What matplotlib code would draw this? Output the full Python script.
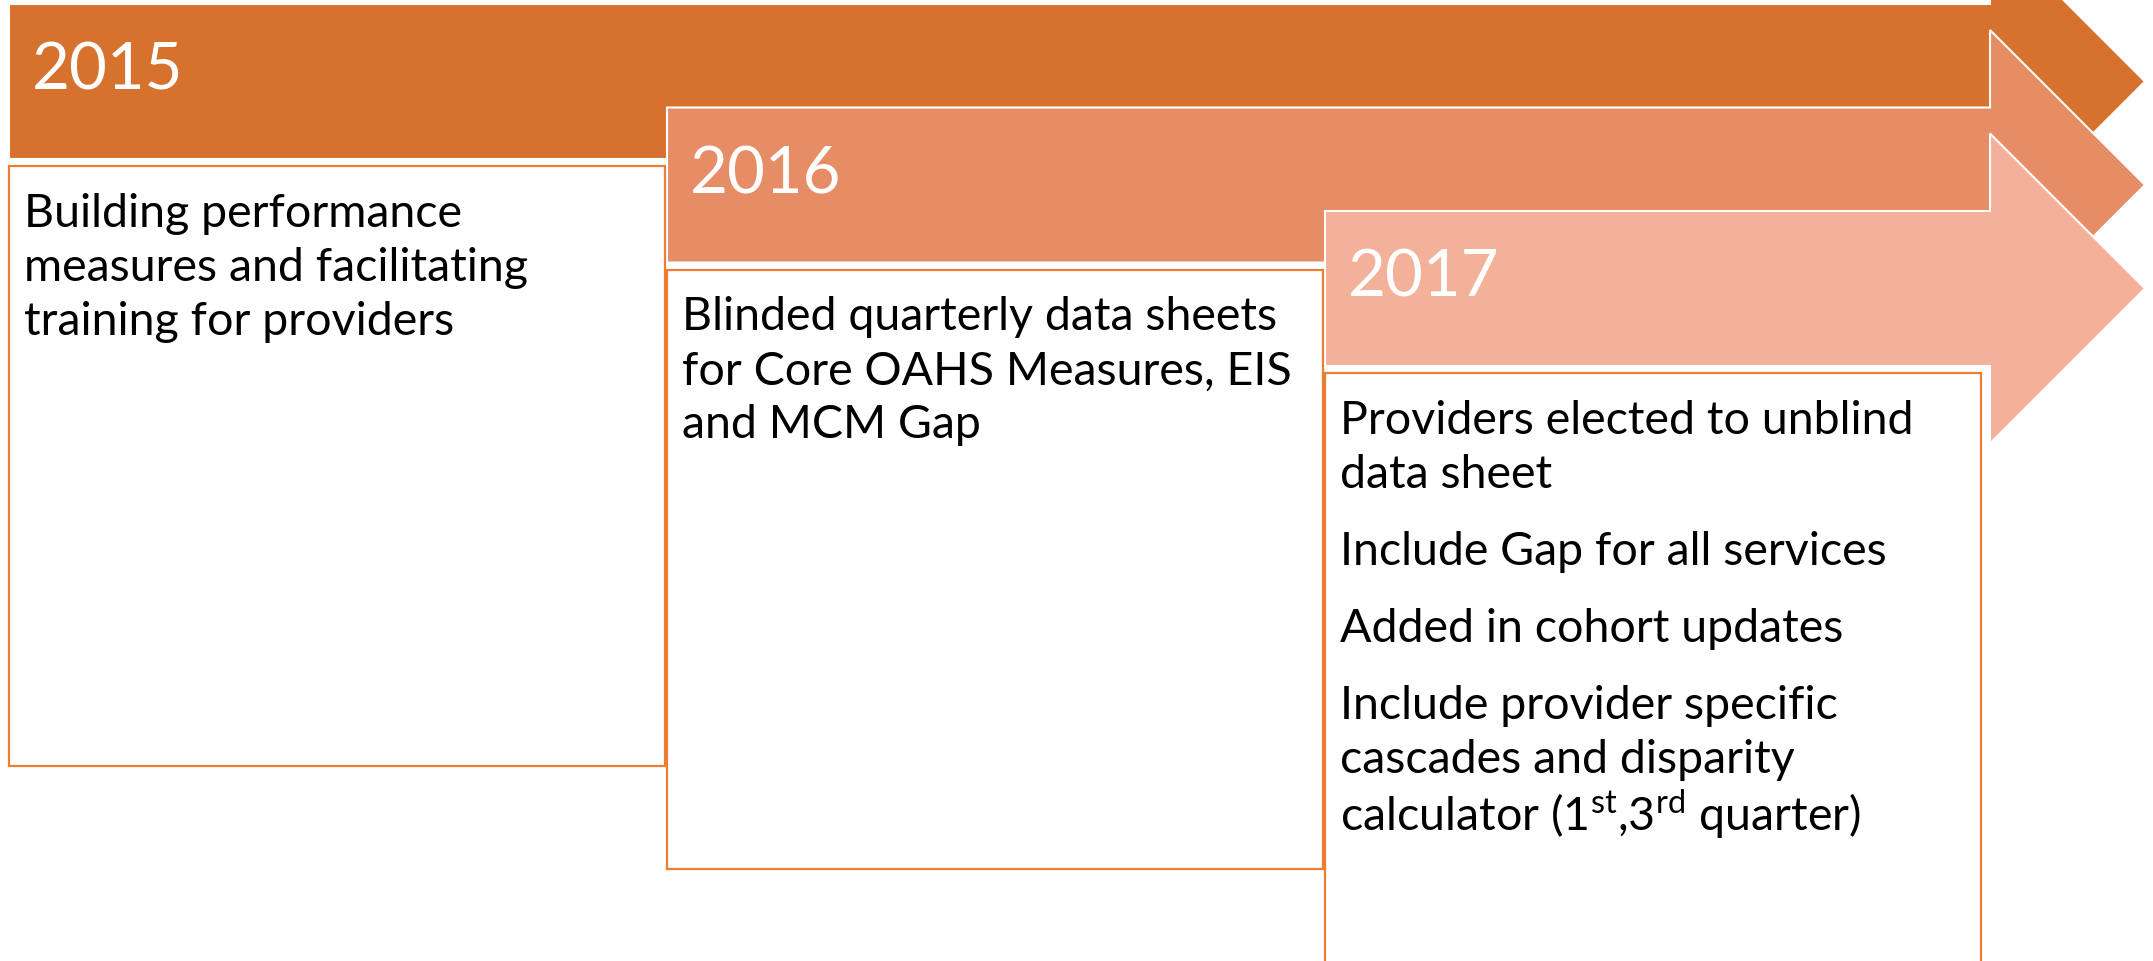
import matplotlib.pyplot as plt
from matplotlib.patches import Polygon, Rectangle

plt.rcParams['mathtext.fontset'] = 'custom'
plt.rcParams['mathtext.rm'] = 'Lato'

years = ['2015', '2016', '2017']
notes = [
    [['Building performance', 'measures and facilitating', 'training for providers']],
    [['Blinded quarterly data sheets', 'for Core OAHS Measures, EIS', 'and MCM Gap']],
    [['Providers elected to unblind', 'data sheet'],
     ['Include Gap for all services'],
     ['Added in cohort updates'],
     ['Include provider specific', 'cascades and disparity',
      r'calculator (1$^{\mathrm{st}}$,3$^{\mathrm{rd}}$ quarter)']],
]
arrow_colors = ['#D7712E', '#E78D65', '#F3B19A']
edge_orange = '#ED7D31'

W, H = 2153, 962
fig = plt.figure(figsize=(W / 100, H / 100), dpi=100)
ax = fig.add_axes([0, 0, 1, 1])
ax.set_xlim(0, W)
ax.set_ylim(H, 0)
ax.axis('off')

step_x, step_y = 658, 103.5
body_h, head_half = 155, 155
body_end, tip = 1990, 2145
fam = ['Lato', 'DejaVu Sans']

for i, (yr, col) in enumerate(zip(years, arrow_colors)):
    x0 = 9 + i * step_x
    top = 5 + i * step_y
    bot = top + body_h
    c = (top + bot) / 2
    pts = [(x0, top), (body_end, top), (body_end, c - head_half), (tip, c),
           (body_end, c + head_half), (body_end, bot), (x0, bot)]
    ax.add_patch(Polygon(pts, closed=True, fc=col, ec='white', lw=1.5, zorder=i + 1))
    ax.text(x0 + 23, top + 85, yr, color='white', fontsize=47, family=fam,
            va='baseline', zorder=10)

    # description box under each arrow
    btop = top + 162
    ax.add_patch(Rectangle((x0, btop), 656, 600, fc='white', ec=edge_orange,
                           lw=1.6, zorder=5))
    y = btop + 60
    for para in notes[i]:
        for j, line in enumerate(para):
            if '$' in line:
                y += 4
            ax.text(x0 + 15, y, line, color='black', fontsize=33.5, family=fam,
                    va='baseline', zorder=10)
            y += 54
        y += 23

fig.savefig('out.png', dpi=100)
